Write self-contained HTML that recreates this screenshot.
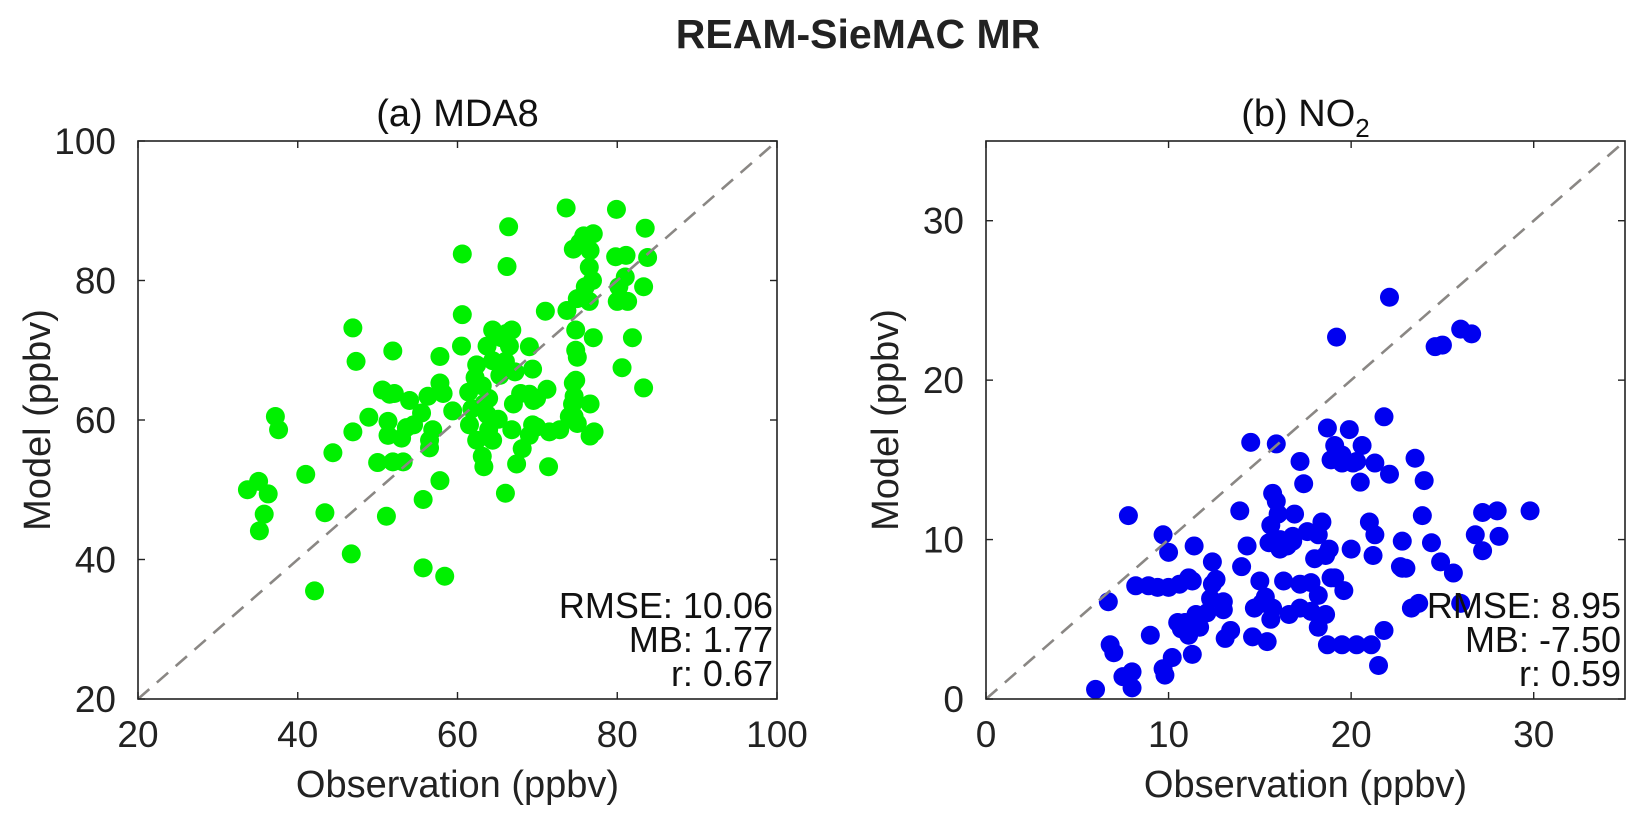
<!DOCTYPE html>
<html><head><meta charset="utf-8"><style>
body{margin:0;background:#fff;}
svg{display:block;font-family:"Liberation Sans",Arial,sans-serif;}
</style></head><body>
<svg id="fig" width="1643" height="822" viewBox="0 0 1643 822" xmlns="http://www.w3.org/2000/svg">
<text x="858" y="48" font-size="41" font-weight="bold" text-anchor="middle" fill="#222">REAM-SieMAC MR</text>
</svg>
<script>
const aObs=[33.7,35.1,36.3,35.2,35.8,37.2,37.6,41.0,43.4,44.4,46.9,47.3,46.7,46.9,48.9,50.6,50.0,51.3,51.9,51.3,51.5,51.1,52.1,53.0,53.2,53.6,54.0,51.9,55.7,54.5,55.5,56.5,56.9,56.5,56.3,57.8,57.8,58.2,57.8,55.7,58.4,42.1,59.4,60.5,60.6,61.4,61.8,61.5,62.4,63.1,63.3,62.4,63.1,63.3,64.4,65.3,63.7,63.9,64.4,65.5,66.0,66.5,66.8,67.0,66.1,67.2,67.4,69.0,66.8,68.1,63.9,65.1,62.2,63.7,64.4,65.5,69.4,69.5,69.9,69.0,69.4,69.0,69.9,67.9,71.0,71.2,74.0,71.5,71.4,72.8,74.4,74.8,74.8,75.0,73.7,74.8,74.6,75.0,74.5,74.6,75.0,73.6,74.5,75.3,75.8,76.5,76.6,76.0,76.5,76.9,76.6,76.6,77.1,77.0,79.9,79.8,80.2,81.1,81.9,83.3,83.8,83.3,80.6,81.0,81.3,80.0,77.0,66.4,60.6,66.2,83.5,66.0];
const aMod=[50.0,51.2,49.4,44.1,46.5,60.5,58.6,52.2,46.7,55.3,73.2,68.4,40.8,58.3,60.4,64.3,53.9,59.8,69.9,57.8,63.7,46.2,63.8,57.4,54.0,58.9,62.8,54.0,48.6,59.3,61.0,56.0,58.6,57.1,63.4,69.1,65.3,63.8,51.3,38.8,37.6,35.5,61.3,70.6,75.1,64.0,61.6,59.3,67.9,64.9,62.3,57.1,54.8,53.3,57.1,66.4,70.6,63.1,72.9,67.6,68.4,70.6,72.9,62.3,72.4,66.9,53.7,70.5,58.6,55.9,58.6,60.1,66.1,60.8,68.5,71.8,59.3,62.8,63.1,63.7,67.3,57.8,59.0,63.8,75.6,64.4,60.5,58.3,53.3,58.6,62.3,65.7,70.0,69.0,75.7,72.9,60.5,59.5,65.3,63.4,77.4,90.4,84.5,85.4,86.4,81.9,84.3,79.1,77.0,80.0,62.3,57.7,58.3,71.8,90.2,83.4,79.1,83.6,71.8,79.1,83.3,64.6,67.5,80.5,77.0,77.0,86.7,87.7,83.8,82.0,87.5,49.5];
const bObs=[6.0,6.7,6.8,7.0,7.5,7.8,8.0,8.0,8.2,8.9,9.0,9.4,9.7,10.0,10.0,9.7,9.8,10.6,10.2,10.5,10.7,10.9,11.1,11.3,11.1,11.3,11.4,11.5,11.7,12.1,12.3,12.4,12.4,12.6,13.0,13.0,13.1,13.4,14.0,13.9,14.3,14.5,14.7,14.6,15.0,15.1,15.3,15.5,15.4,15.6,15.6,15.7,15.7,15.9,15.9,16.0,16.1,16.1,16.3,16.5,16.6,16.8,16.9,16.8,17.2,17.2,17.2,17.4,17.6,17.8,18.0,18.2,17.8,18.2,18.4,18.6,18.8,18.6,18.9,19.1,18.7,19.5,19.5,19.9,20.0,19.5,20.3,20.1,20.5,20.6,20.3,21.0,21.1,21.5,21.8,21.3,21.8,21.3,21.2,22.1,22.8,22.8,22.1,23.0,23.3,23.5,23.9,24.0,24.4,23.7,24.6,25.0,24.9,25.6,26.0,26.6,26.8,27.2,27.2,28.0,22.7,18.2,19.1,19.6,19.2,18.9,18.7,29.8,28.1,26.0];
const bMod=[0.6,6.1,3.4,2.9,1.4,11.5,1.7,0.7,7.1,7.1,4.0,7.0,10.3,9.2,7.0,1.9,1.5,7.2,2.6,4.8,4.4,4.8,4.0,2.8,7.6,7.4,9.6,5.3,4.5,5.4,6.3,8.6,7.2,7.5,6.1,5.6,3.8,4.3,8.3,11.8,9.6,16.1,5.7,3.9,7.4,6.0,6.4,9.8,3.6,10.9,5.0,5.7,12.9,12.4,16.0,11.6,10.0,9.4,7.4,9.6,5.3,10.2,11.6,9.9,7.2,5.7,14.9,13.5,10.5,7.3,8.8,6.5,5.5,4.5,11.1,9.0,9.4,5.3,7.6,15.9,3.4,3.4,14.8,16.9,9.4,15.3,3.4,14.8,13.6,15.9,14.9,11.1,3.4,2.1,4.3,14.8,17.7,10.3,9.0,14.1,8.2,9.9,25.2,8.2,5.7,15.1,11.5,13.7,9.8,6.0,22.1,22.2,8.6,7.9,23.2,22.9,10.3,9.3,11.7,11.8,8.3,10.3,7.6,6.8,22.7,15.0,17.0,11.8,10.2,6.0];
const aTicks=[20,40,60,80,100];
const bTicks=[0,10,20,30];
const aStats=["RMSE: 10.06","MB: 1.77","r: 0.67"];
const bStats=["RMSE: 8.95","MB: -7.50","r: 0.59"];

const NS="http://www.w3.org/2000/svg";
const svg=document.getElementById('fig');
function mk(tag,attrs,parent){const e=document.createElementNS(NS,tag);for(const k in attrs)e.setAttribute(k,attrs[k]);(parent||svg).appendChild(e);return e;}

function panel(key,L,T,W,H,min,max,ticks,xs,ys,color,stats,title,sub){
  const g=mk('g',{});
  
  
  const sx=v=>L+(v-min)/(max-min)*W;
  const sy=v=>T+H-(v-min)/(max-min)*H;
  const t=mk('text',{x:L+W/2,y:126,'font-size':38,'text-anchor':'middle',fill:'#111'},g);
  
  
  t.textContent=title;
  if(sub){const s=mk('tspan',{'font-size':26,dy:11},t);s.textContent=sub;}
  const pg=mk('g',{},g);
  
  
  for(let i=0;i<xs.length;i++){
    const c=mk('circle',{cx:sx(xs[i]),cy:sy(ys[i]),r:9.5,fill:color},pg);
    
    
  }
  const dl=mk('line',{x1:sx(min),y1:sy(min),x2:sx(max),y2:sy(max),stroke:'#8a8784','stroke-width':2.6,'stroke-dasharray':'15,10'},g);
  
  
  const box=mk('rect',{x:L,y:T,width:W,height:H,fill:'none',stroke:'#222','stroke-width':1.6},g);
  
  
  ticks.forEach(v=>{
    const x=sx(v),y=sy(v);
    mk('line',{x1:x,y1:T+H,x2:x,y2:T+H-7,stroke:'#222','stroke-width':1.4},g);
    mk('line',{x1:x,y1:T,x2:x,y2:T+7,stroke:'#222','stroke-width':1.4},g);
    mk('line',{x1:L,y1:y,x2:L+7,y2:y,stroke:'#222','stroke-width':1.4},g);
    mk('line',{x1:L+W,y1:y,x2:L+W-7,y2:y,stroke:'#222','stroke-width':1.4},g);
    const xt=mk('text',{x:x,y:T+H+48,'font-size':37,'text-anchor':'middle',fill:'#222'},g);
    
    
    xt.textContent=v;
    const yt=mk('text',{x:L-22,y:y+13,'font-size':37,'text-anchor':'end',fill:'#222'},g);
    
    
    yt.textContent=v;
  });
  const xl=mk('text',{x:L+W/2,y:797,'font-size':38,'text-anchor':'middle',fill:'#222'},g);
  
  
  xl.textContent='Observation (ppbv)';
  const yx=L-88,yy=T+H/2;
  const yl=mk('text',{x:yx,y:yy,'font-size':38,'text-anchor':'middle',fill:'#222',transform:`rotate(-90 ${yx} ${yy})`},g);
  
  
  yl.textContent='Model (ppbv)';
  stats.forEach((s,i)=>{
    const st=mk('text',{x:L+W-4,y:618+i*34,'font-size':36,'text-anchor':'end',fill:'#111'},g);
    
    
    st.textContent=s;
  });
}
panel('mda8',138,141,639,558,20,100,aTicks,aObs,aMod,'#00f000',aStats,'(a) MDA8',null);
panel('no2',986,141,639,558,0,35,bTicks,bObs,bMod,'#0000f0',bStats,'(b) NO',"2");
</script>
</body></html>
